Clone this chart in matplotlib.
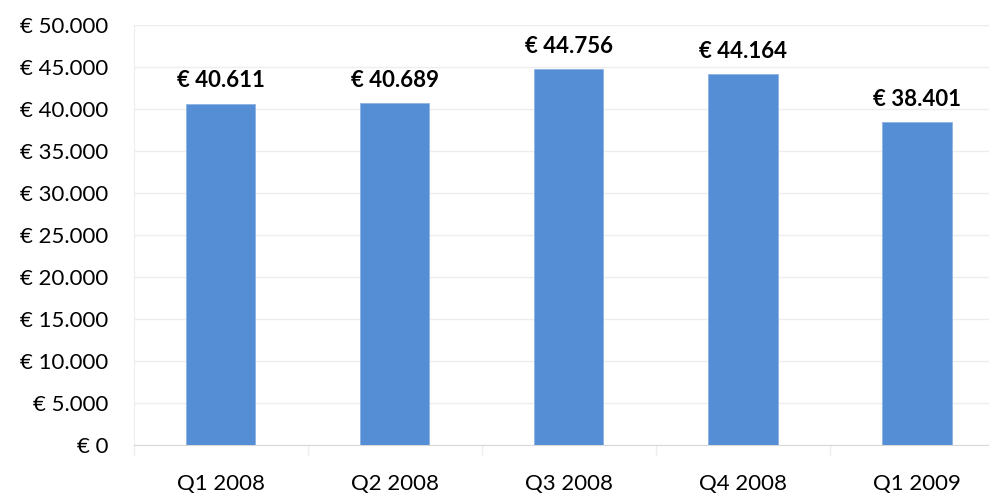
import matplotlib

matplotlib.use("Agg")
import matplotlib.pyplot as plt
from matplotlib.ticker import FuncFormatter, FixedLocator

quarters = ["Q1 2008", "Q2 2008", "Q3 2008", "Q4 2008", "Q1 2009"]
revenue = [40611, 40689, 44756, 44164, 38401]
y_ticks = list(range(0, 50001, 5000))

BAR_COLOR = "#558ED5"
GRID_COLOR = "#EDEDED"

plt.rcParams["font.family"] = ["Lato", "DejaVu Sans"]


def euro(value, _pos=None):
    # Dutch style: thousands separated by a dot
    return "€ " + f"{int(value):,}".replace(",", ".")


fig = plt.figure(figsize=(9.89, 4.97), dpi=100)
# the plot area runs a bit past the right edge of the picture, as in the original
ax = fig.add_axes([0.135, 0.1046, 0.88, 0.845])

positions = range(len(quarters))
bars = ax.bar(positions, revenue, width=0.4, color=BAR_COLOR,
              edgecolor="#8DB3E2", linewidth=0.6, zorder=3)

for bar, value in zip(bars, revenue):
    ax.annotate(euro(value), (bar.get_x() + bar.get_width() / 2, value),
                xytext=(0, 9), textcoords="offset points",
                ha="center", va="bottom", fontsize=16, fontweight="bold")

ax.set_xlim(-0.5, len(quarters) - 0.5)
ax.set_ylim(0, 50000)
ax.set_yticks(y_ticks)
ax.yaxis.set_major_formatter(FuncFormatter(euro))
ax.grid(axis="y", color=GRID_COLOR, linewidth=1, zorder=0)

ax.set_xticks(list(positions))
ax.set_xticklabels(quarters)
ax.xaxis.set_minor_locator(FixedLocator([i - 0.5 for i in range(len(quarters) + 1)]))
ax.tick_params(axis="x", which="major", length=0, pad=21, labelsize=16)
ax.tick_params(axis="x", which="minor", length=7, color=GRID_COLOR, width=1)
ax.tick_params(axis="y", length=0, pad=18, labelsize=16)

for side in ("top", "right"):
    ax.spines[side].set_visible(False)
ax.spines["left"].set_color(GRID_COLOR)
ax.spines["bottom"].set_color("#D9D9D9")

fig.savefig("out.png", dpi=100)
